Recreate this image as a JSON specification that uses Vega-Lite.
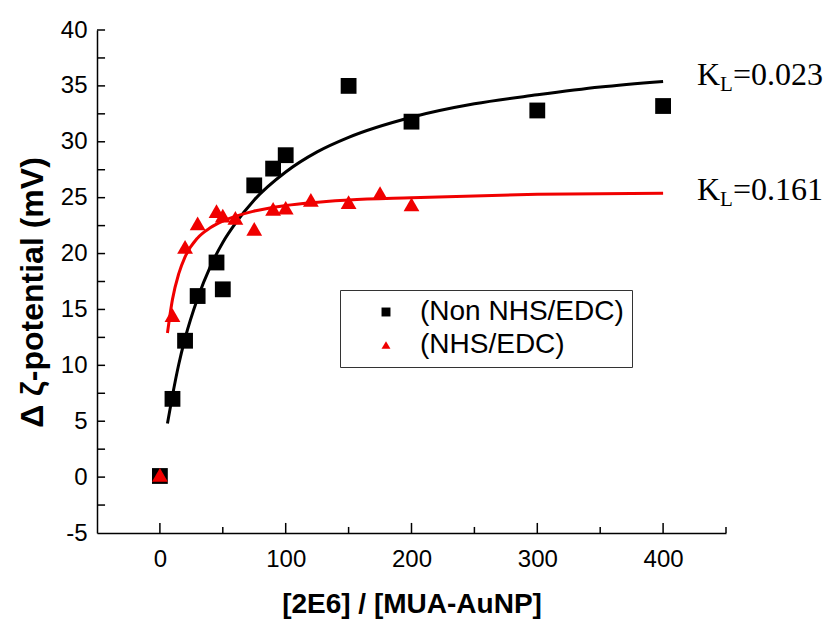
{
  "$schema": "https://vega.github.io/schema/vega-lite/v6.json",
  "width": 629,
  "height": 503,
  "autosize": "none",
  "padding": {"left": 97, "top": 30, "right": 110, "bottom": 90},
  "background": "white",
  "config": {
    "view": {"stroke": null},
    "font": "Liberation Sans",
    "axis": {
      "domainColor": "black", "domainWidth": 1.5, "tickColor": "black", "tickWidth": 1.5,
      "labelColor": "black", "titleColor": "black", "grid": false,
      "labelFont": "Liberation Sans", "titleFont": "Liberation Sans"
    }
  },
  "datasets": {
    "points": [
      {"x": 0, "y": 0.1, "series": "(Non NHS/EDC)"},
      {"x": 10, "y": 7.0, "series": "(Non NHS/EDC)"},
      {"x": 20, "y": 12.2, "series": "(Non NHS/EDC)"},
      {"x": 30, "y": 16.2, "series": "(Non NHS/EDC)"},
      {"x": 45, "y": 19.2, "series": "(Non NHS/EDC)"},
      {"x": 50, "y": 16.8, "series": "(Non NHS/EDC)"},
      {"x": 75, "y": 26.1, "series": "(Non NHS/EDC)"},
      {"x": 90, "y": 27.6, "series": "(Non NHS/EDC)"},
      {"x": 100, "y": 28.8, "series": "(Non NHS/EDC)"},
      {"x": 150, "y": 35.0, "series": "(Non NHS/EDC)"},
      {"x": 200, "y": 31.8, "series": "(Non NHS/EDC)"},
      {"x": 300, "y": 32.8, "series": "(Non NHS/EDC)"},
      {"x": 400, "y": 33.2, "series": "(Non NHS/EDC)"},
      {"x": 0, "y": 0.2, "series": "(NHS/EDC)"},
      {"x": 10, "y": 14.5, "series": "(NHS/EDC)"},
      {"x": 20, "y": 20.6, "series": "(NHS/EDC)"},
      {"x": 30, "y": 22.7, "series": "(NHS/EDC)"},
      {"x": 45, "y": 23.8, "series": "(NHS/EDC)"},
      {"x": 50, "y": 23.4, "series": "(NHS/EDC)"},
      {"x": 60, "y": 23.2, "series": "(NHS/EDC)"},
      {"x": 75, "y": 22.2, "series": "(NHS/EDC)"},
      {"x": 90, "y": 24.0, "series": "(NHS/EDC)"},
      {"x": 100, "y": 24.1, "series": "(NHS/EDC)"},
      {"x": 120, "y": 24.8, "series": "(NHS/EDC)"},
      {"x": 150, "y": 24.6, "series": "(NHS/EDC)"},
      {"x": 175, "y": 25.4, "series": "(NHS/EDC)"},
      {"x": 200, "y": 24.4, "series": "(NHS/EDC)"}
    ],
    "curves": [
      {"x": 6, "y": 4.8, "series": "(Non NHS/EDC)"},
      {"x": 10, "y": 7.3, "series": "(Non NHS/EDC)"},
      {"x": 15, "y": 10.1, "series": "(Non NHS/EDC)"},
      {"x": 20, "y": 12.4, "series": "(Non NHS/EDC)"},
      {"x": 30, "y": 16.0, "series": "(Non NHS/EDC)"},
      {"x": 40, "y": 18.8, "series": "(Non NHS/EDC)"},
      {"x": 50, "y": 21.0, "series": "(Non NHS/EDC)"},
      {"x": 60, "y": 22.7, "series": "(Non NHS/EDC)"},
      {"x": 75, "y": 24.8, "series": "(Non NHS/EDC)"},
      {"x": 100, "y": 27.3, "series": "(Non NHS/EDC)"},
      {"x": 125, "y": 29.1, "series": "(Non NHS/EDC)"},
      {"x": 150, "y": 30.4, "series": "(Non NHS/EDC)"},
      {"x": 200, "y": 32.2, "series": "(Non NHS/EDC)"},
      {"x": 250, "y": 33.4, "series": "(Non NHS/EDC)"},
      {"x": 300, "y": 34.2, "series": "(Non NHS/EDC)"},
      {"x": 350, "y": 34.9, "series": "(Non NHS/EDC)"},
      {"x": 400, "y": 35.4, "series": "(Non NHS/EDC)"},
      {"x": 6, "y": 12.9, "series": "(NHS/EDC)"},
      {"x": 8, "y": 14.5, "series": "(NHS/EDC)"},
      {"x": 10, "y": 15.9, "series": "(NHS/EDC)"},
      {"x": 15, "y": 18.2, "series": "(NHS/EDC)"},
      {"x": 20, "y": 19.7, "series": "(NHS/EDC)"},
      {"x": 30, "y": 21.4, "series": "(NHS/EDC)"},
      {"x": 40, "y": 22.3, "series": "(NHS/EDC)"},
      {"x": 50, "y": 22.9, "series": "(NHS/EDC)"},
      {"x": 75, "y": 23.8, "series": "(NHS/EDC)"},
      {"x": 100, "y": 24.3, "series": "(NHS/EDC)"},
      {"x": 150, "y": 24.8, "series": "(NHS/EDC)"},
      {"x": 200, "y": 25.0, "series": "(NHS/EDC)"},
      {"x": 300, "y": 25.3, "series": "(NHS/EDC)"},
      {"x": 400, "y": 25.4, "series": "(NHS/EDC)"}
    ],
    "xmajor": [{"x": 0}, {"x": 100}, {"x": 200}, {"x": 300}, {"x": 400}],
    "xminor": [{"x": 50}, {"x": 150}, {"x": 250}, {"x": 350}, {"x": 450}],
    "yticks": [
      {"y": -2.5}, {"y": 0}, {"y": 2.5}, {"y": 5}, {"y": 7.5}, {"y": 10}, {"y": 12.5}, {"y": 15}, {"y": 17.5},
      {"y": 20}, {"y": 22.5}, {"y": 25}, {"y": 27.5}, {"y": 30}, {"y": 32.5}, {"y": 35}, {"y": 37.5}, {"y": 40}
    ],
    "notes": [
      {"x": 427, "y": 35.1, "k": "K", "sub": "L", "rest": "=0.023"},
      {"x": 427, "y": 24.8, "k": "K", "sub": "L", "rest": "=0.161"}
    ]
  },
  "layer": [
    {
      "data": {"name": "curves"},
      "transform": [{"filter": {"field": "series", "equal": "(Non NHS/EDC)"}}],
      "mark": {"type": "line", "strokeWidth": 3, "interpolate": "monotone", "color": "black"},
      "encoding": {
        "x": {"field": "x", "type": "quantitative",
          "scale": {"domain": [-50, 450], "nice": false, "zero": false},
          "axis": {"orient": "bottom", "values": [0, 100, 200, 300, 400], "ticks": false, "tickSize": 0,
            "labelPadding": 14, "labelFontSize": 24, "title": "[2E6] / [MUA-AuNP]",
            "titleFontSize": 28, "titleFontWeight": "bold", "titlePadding": 19}},
        "y": {"field": "y", "type": "quantitative",
          "scale": {"domain": [-5, 40], "nice": false, "zero": false},
          "axis": {"orient": "left", "values": [-5, 0, 5, 10, 15, 20, 25, 30, 35, 40], "ticks": false, "tickSize": 0,
            "labelPadding": 10, "labelFontSize": 24, "labelExpr": "'' + datum.value", "title": "Δ ζ-potential (mV)",
            "titleFontSize": 32, "titleFontWeight": "bold", "titlePadding": 11, "titleY": 262}}
      }
    },
    {
      "data": {"name": "curves"},
      "transform": [{"filter": {"field": "series", "equal": "(NHS/EDC)"}}],
      "mark": {"type": "line", "strokeWidth": 3, "interpolate": "monotone", "color": "#f00000"},
      "encoding": {
        "x": {"field": "x", "type": "quantitative"},
        "y": {"field": "y", "type": "quantitative"}
      }
    },
    {
      "data": {"name": "xmajor"},
      "mark": {"type": "rule", "color": "black", "strokeWidth": 1.5},
      "encoding": {
        "x": {"field": "x", "type": "quantitative"},
        "y": {"datum": -5, "type": "quantitative"},
        "y2": {"datum": -4.1}
      }
    },
    {
      "data": {"name": "xminor"},
      "mark": {"type": "rule", "color": "black", "strokeWidth": 1.5},
      "encoding": {
        "x": {"field": "x", "type": "quantitative"},
        "y": {"datum": -5, "type": "quantitative"},
        "y2": {"datum": -4.46}
      }
    },
    {
      "data": {"name": "yticks"},
      "mark": {"type": "rule", "color": "black", "strokeWidth": 1.5},
      "encoding": {
        "y": {"field": "y", "type": "quantitative"},
        "x": {"datum": -50, "type": "quantitative"},
        "x2": {"datum": -43.6}
      }
    },
    {
      "data": {"name": "points"},
      "mark": {"type": "point", "filled": true, "opacity": 1, "size": 250},
      "encoding": {
        "x": {"field": "x", "type": "quantitative"},
        "y": {"field": "y", "type": "quantitative"},
        "color": {"field": "series", "type": "nominal",
          "scale": {"domain": ["(Non NHS/EDC)", "(NHS/EDC)"], "range": ["black", "#f00000"]},
          "legend": {"title": null, "orient": "none", "legendX": 243, "legendY": 260,
            "strokeColor": "#333", "padding": 8, "symbolSize": 80,
            "symbolOffset": 24, "labelOffset": 20, "labelFontSize": 28, "labelColor": "black",
            "labelFont": "Liberation Sans", "rowPadding": 5, "fillColor": "white", "labelLimit": 400}},
        "shape": {"field": "series", "type": "nominal",
          "scale": {"domain": ["(Non NHS/EDC)", "(NHS/EDC)"], "range": ["square", "triangle-up"]}}
      }
    },
    {
      "data": {"name": "notes"},
      "mark": {"type": "text", "font": "Liberation Serif", "fontSize": 32, "align": "left", "baseline": "alphabetic", "color": "black"},
      "encoding": {
        "x": {"field": "x", "type": "quantitative"},
        "y": {"field": "y", "type": "quantitative"},
        "text": {"field": "k"}
      }
    },
    {
      "data": {"name": "notes"},
      "mark": {"type": "text", "font": "Liberation Serif", "fontSize": 21, "align": "left", "baseline": "alphabetic", "color": "black", "dx": 23, "dy": 6},
      "encoding": {
        "x": {"field": "x", "type": "quantitative"},
        "y": {"field": "y", "type": "quantitative"},
        "text": {"field": "sub"}
      }
    },
    {
      "data": {"name": "notes"},
      "mark": {"type": "text", "font": "Liberation Serif", "fontSize": 32, "align": "left", "baseline": "alphabetic", "color": "black", "dx": 36},
      "encoding": {
        "x": {"field": "x", "type": "quantitative"},
        "y": {"field": "y", "type": "quantitative"},
        "text": {"field": "rest"}
      }
    }
  ]
}
